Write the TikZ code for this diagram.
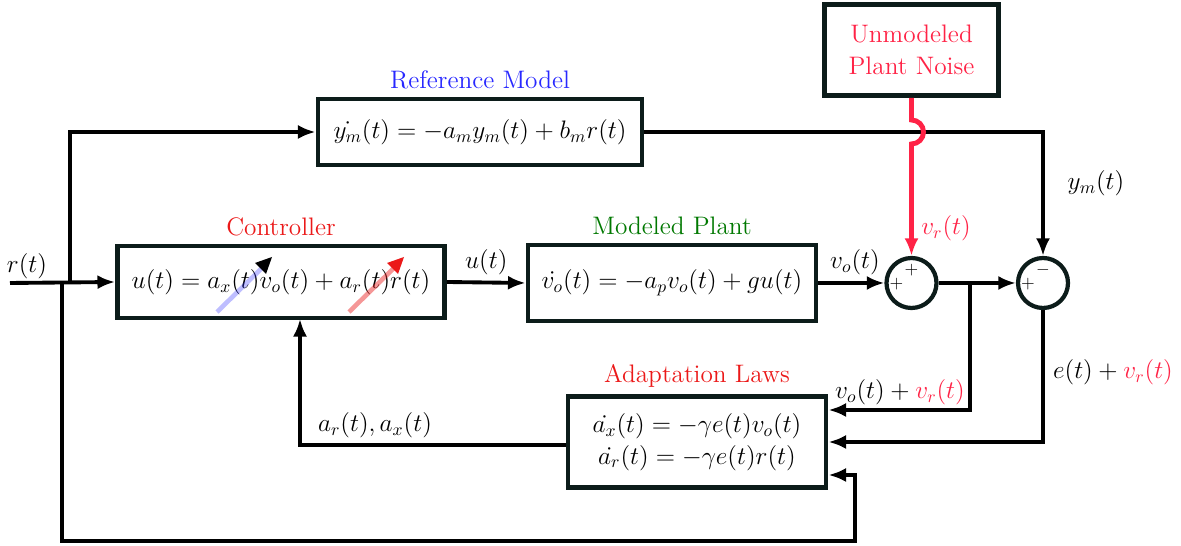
\documentclass[tikz,border=0pt]{standalone}
\usepackage{amsmath, amssymb}
\usepackage{tikz}
\usetikzlibrary{arrows.meta, calc, positioning}
\usepackage{xcolor}
\definecolor{boxline}{RGB}{12,28,26}
\definecolor{refblue}{RGB}{40,40,255}
\definecolor{plantgreen}{RGB}{0,120,0}
\definecolor{ctrlred}{RGB}{235,25,25}
\definecolor{noisered}{RGB}{255,35,70}

\begin{document}
\begin{tikzpicture}[>={Latex[length=10pt,width=8pt]},
  blk/.style={draw=boxline,line width=2.8pt,fill=white,font=\Large,align=center,inner sep=4pt},
  sumnode/.style={draw=boxline,circle,line width=2.4pt,minimum size=1cm,inner sep=0pt},
  sig/.style={line width=2.2pt},
  ttl/.style={font=\Large}]
  \useasboundingbox (0,0) rectangle (23.62,10.92);
  % blocks
  \node[blk,minimum width=6.48cm,minimum height=1.32cm] (refm) at (9.6,8.28) {$\dot{y_m}(t)=-a_my_m(t)+b_mr(t)$};
  \node[blk,minimum width=3.48cm,minimum height=1.82cm,text=noisered] (noise) at (18.23,9.92) {Unmodeled\\Plant Noise};
  \node[blk,minimum width=6.54cm,minimum height=1.44cm] (ctrl) at (5.62,5.28) {$u(t)=a_x(t)v_o(t)+a_r(t)r(t)$};
  \node[blk,minimum width=5.76cm,minimum height=1.52cm] (plant) at (13.44,5.26) {$\dot{v_o}(t)=-a_pv_o(t)+gu(t)$};
  \node[blk,minimum width=5.16cm,minimum height=1.82cm] (adapt) at (13.94,2.08) {$\dot{a_x}(t)=-\gamma e(t)v_o(t)$\\$\dot{a_r}(t)=-\gamma e(t)r(t)$};
  \node[sumnode] (sum1) at (18.23,5.26) {};
  \node[sumnode] (sum2) at (20.86,5.26) {};
  % titles
  \node[ttl,text=refblue,above=1pt of refm] {Reference Model};
  \node[ttl,text=ctrlred,above=1pt of ctrl] {Controller};
  \node[ttl,text=plantgreen,above=1pt of plant] {Modeled Plant};
  \node[ttl,text=ctrlred,above=0pt of adapt] {Adaptation Laws};
  % signs
  \node[font=\normalsize] at ($(sum1.north)+(0,-0.28)$) {$+$};
  \node[font=\normalsize] at ($(sum1.west)+(0.24,-0.02)$) {$+$};
  \node[font=\normalsize] at ($(sum2.north)+(0,-0.28)$) {$-$};
  \node[font=\normalsize] at ($(sum2.west)+(0.24,-0.02)$) {$+$};
  % adaptive gains
  \draw[line width=2.6pt,refblue,opacity=0.3] (4.34,4.68) -- (5.3,5.62);
  \fill[black] (5.44,5.78) -- (5.1,5.66) -- (5.32,5.44) -- cycle;
  \draw[line width=2.6pt,ctrlred,opacity=0.45] (6.98,4.68) -- (7.94,5.62);
  \fill[ctrlred] (8.08,5.78) -- (7.74,5.66) -- (7.96,5.44) -- cycle;
  % points
  \coordinate (in) at (0.2,5.26);
  \coordinate (up) at (1.4,5.26);
  \coordinate (dn) at (1.24,5.26);
  \coordinate (tap) at (19.4,5.26);
  \coordinate (fb) at (6.0,4.54);
  \coordinate (hop) at (18.23,8.52);
  % connectors
  \draw[sig,->] (in) -- (ctrl.west);
  \draw[sig,->] (up) |- (refm.west);
  \draw[sig,->] (dn) |- (17.1,0.1) |- ($(adapt.east)+(0,-0.66)$);
  \draw[sig,->] (ctrl.east) -- node[above,font=\Large]{$u(t)$} (plant.west);
  \draw[sig,->] (plant.east) -- node[above,font=\Large,xshift=2pt]{$v_o(t)$} (sum1.west);
  \draw[sig,->] (sum1.east) -- (sum2.west);
  \draw[sig,->] (refm.east) -| (sum2.north);
  \draw[sig,->] (tap) |- ($(adapt.east)+(0,0.64)$);
  \draw[sig,->] (sum2.south) |- (adapt.east);
  \draw[sig,->] ($(adapt.west)+(0,-0.06)$) -| (fb);
  \draw[line width=2.8pt,noisered,->] (noise.south) -- (hop) arc[start angle=90,end angle=-90,radius=0.24] -- (sum1.north);
  % labels
  \node[font=\Large] at (0.54,5.6) {$r(t)$};
  \node[font=\Large] at (21.92,7.26) {$y_m(t)$};
  \node[font=\Large,text=noisered] at (18.92,6.36) {$v_r(t)$};
  \node[font=\Large] at (18.0,3.08) {$v_o(t)+\textcolor{noisered}{v_r(t)}$};
  \node[font=\Large] at (22.26,3.48) {$e(t)+\textcolor{noisered}{v_r(t)}$};
  \node[font=\Large] at (7.5,2.42) {$a_r(t),a_x(t)$};
\end{tikzpicture}
\end{document}
